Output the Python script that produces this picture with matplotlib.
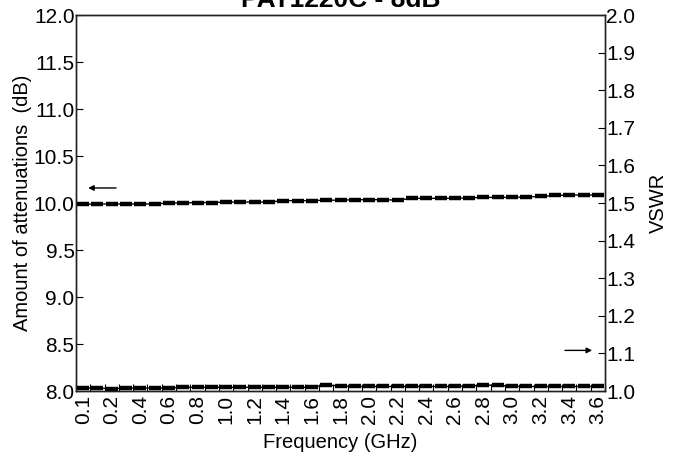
import numpy as np
import matplotlib
matplotlib.use("Agg")
import matplotlib.pyplot as plt

plt.rcParams['font.family'] = ['Liberation Sans', 'DejaVu Sans']

# Frequency points (GHz) and their axis labels
freqs = ['0.1', '0.15', '0.2', '0.3', '0.4', '0.5', '0.6', '0.7', '0.8', '0.9',
         '1.0', '1.1', '1.2', '1.3', '1.4', '1.5', '1.6', '1.7', '1.8', '1.9',
         '2.0', '2.1', '2.2', '2.3', '2.4', '2.5', '2.6', '2.7', '2.8', '2.9',
         '3.0', '3.1', '3.2', '3.3', '3.4', '3.5', '3.6']
shown_labels = ['0.1', '0.2', '0.4', '0.6', '0.8', '1.0', '1.2', '1.4', '1.6', '1.8',
                '2.0', '2.2', '2.4', '2.6', '2.8', '3.0', '3.2', '3.4', '3.6']

# Attenuation (dB)
attenuation = [9.985, 9.99, 9.99, 9.99, 9.99, 9.99, 10.00, 10.00, 10.005, 10.005,
               10.01, 10.01, 10.01, 10.01, 10.025, 10.025, 10.025, 10.03, 10.03, 10.035,
               10.035, 10.035, 10.03, 10.05, 10.05, 10.05, 10.05, 10.055, 10.06, 10.06,
               10.06, 10.065, 10.07, 10.08, 10.085, 10.085, 10.085]

# VSWR
vswr = [1.008, 1.008, 1.006, 1.008, 1.008, 1.008, 1.008, 1.010, 1.010, 1.010,
        1.010, 1.010, 1.010, 1.010, 1.010, 1.010, 1.010, 1.016, 1.013, 1.012,
        1.012, 1.012, 1.012, 1.012, 1.012, 1.012, 1.012, 1.013, 1.016, 1.015,
        1.013, 1.012, 1.012, 1.012, 1.012, 1.012, 1.012]

x = np.arange(len(freqs))

fig = plt.figure(figsize=(6.82, 4.61), dpi=100)
ax = fig.add_axes([76 / 682, 1 - 391 / 461, (605 - 76) / 682, (391 - 15) / 461])
ax2 = ax.twinx()

style = dict(color='black', lw=1.0, marker='_', ms=9, mew=3.2)
ax.plot(x, attenuation, **style)
ax2.plot(x, vswr, **style)

ax.set_xlim(-0.5, len(freqs) - 0.5)
ax.set_ylim(8.0, 12.0)
ax2.set_ylim(1.0, 2.0)

ax.set_yticks(np.arange(8.0, 12.01, 0.5))
ax.set_yticklabels([f'{v:.1f}' for v in np.arange(8.0, 12.01, 0.5)])
ax2.set_yticks(np.arange(1.0, 2.01, 0.1))
ax2.set_yticklabels([f'{v:.1f}' for v in np.arange(1.0, 2.01, 0.1)])

label_pos = [freqs.index(s) for s in shown_labels]
ax.set_xticks(label_pos)
ax.set_xticklabels(shown_labels, rotation=90)
ax.set_xticks(np.arange(-0.5, len(freqs), 1.0), minor=True)
ax.tick_params(axis='x', which='major', length=0, pad=3, labelsize=15)
ax.tick_params(axis='x', which='minor', direction='in', length=5, width=0.8)
ax.tick_params(axis='y', direction='in', length=5, width=0.8, labelsize=15, pad=1)
ax2.tick_params(axis='y', direction='in', length=5, width=0.8, labelsize=15, pad=1)

for a in (ax, ax2):
    for s in a.spines.values():
        s.set_color('#222222')
        s.set_linewidth(1.0)

ax.set_xlabel('Frequency (GHz)', fontsize=14.5, labelpad=6)
ax.set_ylabel('Amount of attenuations  (dB)', fontsize=14.5, labelpad=1)
ax2.set_ylabel('VSWR', fontsize=14.5, labelpad=10)

# Arrows marking which axis each curve belongs to
ax.annotate('', xy=(0.35, 10.16), xytext=(2.3, 10.16),
            arrowprops=dict(arrowstyle='-|>', color='black', lw=1.0,
                            mutation_scale=8, shrinkA=0, shrinkB=0))
ax2.annotate('', xy=(35.6, 1.108), xytext=(33.7, 1.108),
             arrowprops=dict(arrowstyle='-|>', color='black', lw=1.0,
                             mutation_scale=8, shrinkA=0, shrinkB=0))

fig.text(0.5, 1 - 7 / 461, 'PAT1220C - 8dB', ha='center', va='baseline',
         fontsize=19, fontweight='bold')

fig.savefig('out.png', dpi=100)
